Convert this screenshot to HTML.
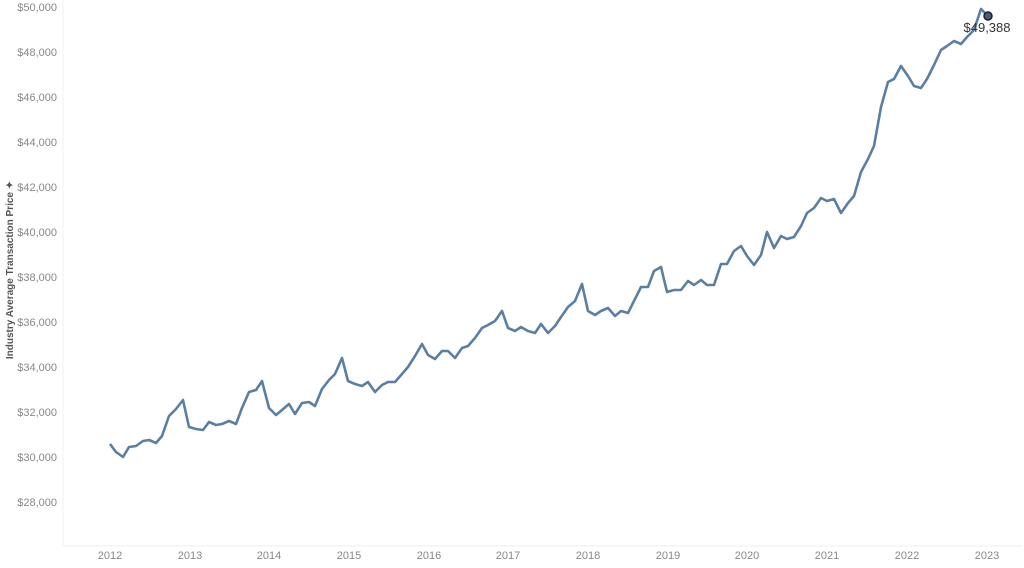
<!DOCTYPE html>
<html><head><meta charset="utf-8"><style>
body{margin:0;background:#fff;}
svg{display:block;font-family:"Liberation Sans",sans-serif;}
</style></head><body>
<svg width="1024" height="568" viewBox="0 0 1024 568">
<line x1="63" y1="546" x2="1022" y2="546" stroke="#eee" stroke-width="1"/>
<line x1="63" y1="0" x2="63" y2="546" stroke="#f2f2f2" stroke-width="1"/>
<g font-size="11" fill="#888" text-anchor="end">
<text x="57" y="11">$50,000</text>
<text x="57" y="56">$48,000</text>
<text x="57" y="101">$46,000</text>
<text x="57" y="146">$44,000</text>
<text x="57" y="191">$42,000</text>
<text x="57" y="236">$40,000</text>
<text x="57" y="281">$38,000</text>
<text x="57" y="326">$36,000</text>
<text x="57" y="371">$34,000</text>
<text x="57" y="416">$32,000</text>
<text x="57" y="461">$30,000</text>
<text x="57" y="506">$28,000</text>
</g>
<g font-size="11" fill="#888" text-anchor="middle">
<text x="110" y="559">2012</text><text x="190" y="559">2013</text><text x="269" y="559">2014</text>
<text x="349" y="559">2015</text><text x="429" y="559">2016</text><text x="508" y="559">2017</text>
<text x="588" y="559">2018</text><text x="668" y="559">2019</text><text x="747" y="559">2020</text>
<text x="827" y="559">2021</text><text x="907" y="559">2022</text><text x="987" y="559">2023</text>
</g>
<text transform="translate(13,270) rotate(-90)" font-size="10" font-weight="bold" fill="#555" text-anchor="middle">Industry Average Transaction Price ✦</text>
<polyline fill="none" stroke="#5b7fa3" stroke-width="2.6" stroke-linejoin="round" points="110,444 116,452 123,457 129,447 136,446 143,441 149,440 156,443 162,436 169,416 176,409 183,400 189,427 196,429 203,430 209,422 216,425 222,424 229,421 236,424 242,408 249,392 256,390 262,381 269,408 276,415 282,410 289,404 295,414 302,403 309,402 315,406 322,389 329,380 335,374 342,358 348,381 355,384 362,386 368,382 375,392 382,385 388,382 395,382 402,374 408,367 415,356 422,344 428,355 435,359 442,351 448,351 455,358 462,348 468,346 475,338 482,328 488,325 495,321 502,311 508,328 515,331 521,327 528,331 535,333 541,324 548,333 555,326 561,317 568,307 575,301 582,284 588,311 595,315 601,311 608,308 615,316 621,311 628,313 635,299 641,287 648,287 654,271 661,267 667,292 674,290 681,290 688,281 694,285 701,280 707,285 714,285 721,264 727,264 734,251 741,246 747,256 754,265 761,255 767,232 774,248 781,236 787,239 794,237 801,226 807,213 814,208 821,198 827,201 834,199 841,213 848,203 854,196 861,172 868,159 874,146 881,107 888,82 894,79 901,66 908,76 914,86 921,88 927,79 934,65 941,50 947,46 954,41 961,44 967,37 974,30 981,9 988,16"/>
<circle cx="988" cy="16" r="4" fill="#4a5a7a" stroke="#1a1f33" stroke-width="1.5"/>
<text x="987" y="32" font-size="13" fill="#333" text-anchor="middle">$49,388</text>
</svg>
</body></html>
